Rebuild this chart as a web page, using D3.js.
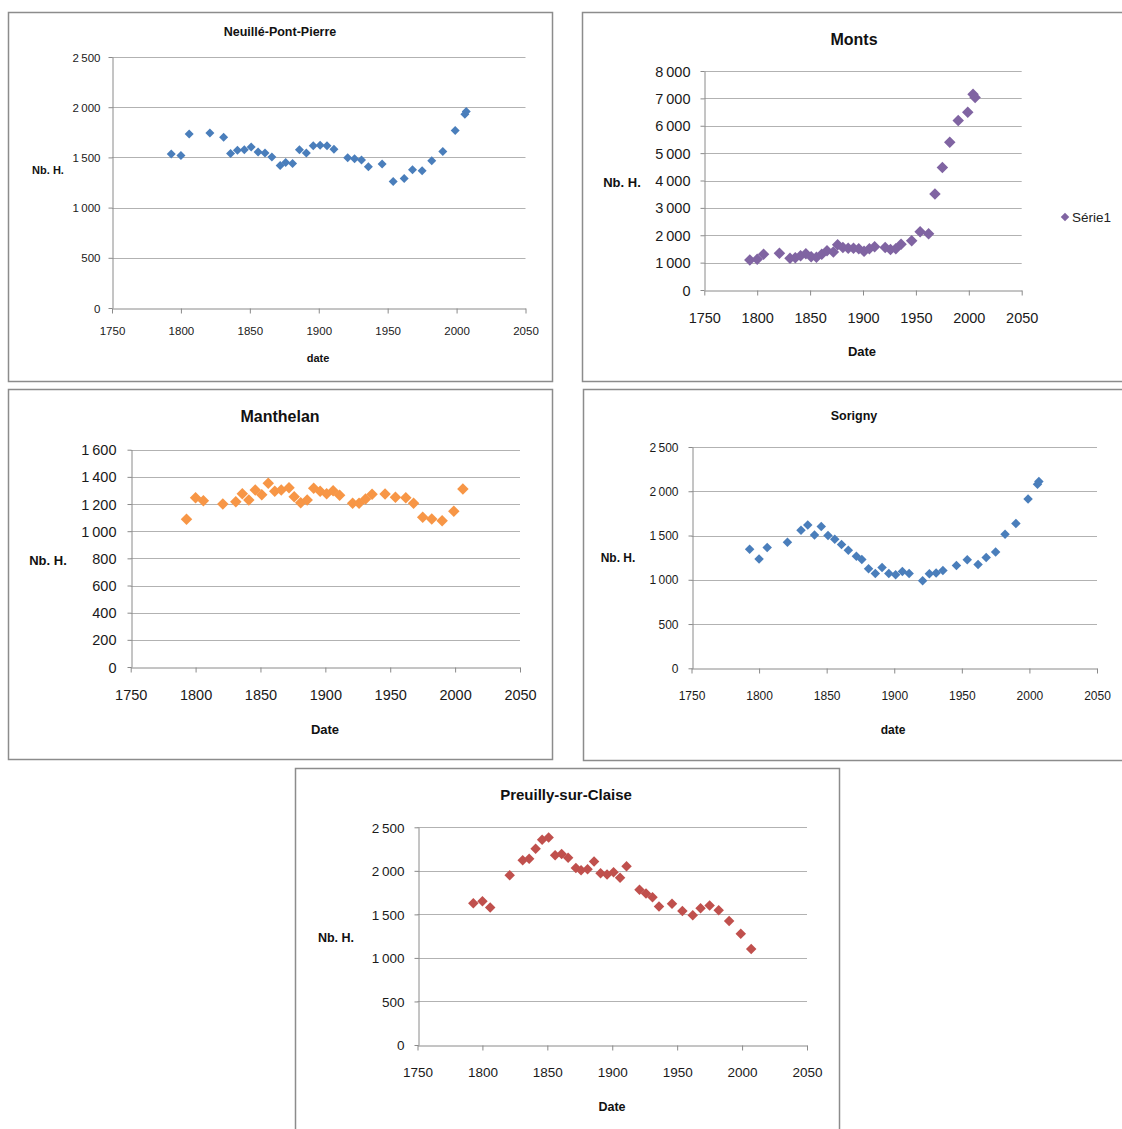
<!DOCTYPE html>
<html>
<head>
<meta charset="utf-8">
<script src="https://cdn.jsdelivr.net/npm/d3@7"></script>
<style>
  body { margin: 0; background: #fff; }
  svg { display: block; font-family: "Liberation Sans", Arial, sans-serif; }
</style>
</head>
<body>
<svg id="chart" width="1122" height="1129"></svg>
<script>
// census years
var years35 = [1793,1800,1806,1821,1831,1836,1841,1846,1851,1856,1861,1866,1872,1876,1881,1886,1891,1896,1901,1906,1911,1921,1926,1931,1936,1946,1954,1962,1968,1975,1982,1990,1999,2006,2007];
var yearsMonts = [1793,1800,1806,1821,1831,1836,1841,1846,1851,1856,1861,1866,1872,1876,1881,1886,1891,1896,1901,1906,1911,1921,1926,1931,1936,1946,1954,1962,1968,1975,1982,1990,1999,2004,2006];
var yearsManthelan = years35.slice(0, 34);
var yearsPreuilly = years35.filter(d => d != 2006);

// Nb. H. per commune
var neuille = [1534,1520,1734,1744,1700,1540,1570,1577,1604,1554,1544,1504,1420,1450,1440,1577,1544,1617,1620,1617,1580,1497,1487,1474,1407,1434,1260,1290,1377,1367,1467,1560,1767,1930,1957];
var monts = [1095,1120,1302,1339,1157,1180,1253,1326,1217,1192,1302,1436,1387,1655,1557,1521,1521,1509,1411,1509,1582,1557,1484,1509,1667,1800,2129,2056,3504,4477,5401,6192,6496,7153,7032];
var manthelan = [1088,1247,1225,1200,1217,1276,1230,1303,1269,1353,1294,1303,1320,1254,1210,1230,1316,1294,1276,1298,1264,1205,1205,1237,1272,1274,1250,1247,1205,1102,1090,1077,1147,1311];
var sorigny = [1346,1236,1365,1425,1560,1620,1507,1602,1500,1459,1399,1334,1267,1230,1124,1072,1139,1072,1056,1094,1072,988,1067,1078,1106,1162,1225,1173,1252,1315,1515,1636,1913,2079,2109];
var preuilly = [1629,1652,1579,1950,2123,2138,2253,2356,2383,2180,2192,2149,2034,2008,2019,2107,1973,1958,1985,1920,2054,1782,1739,1697,1590,1621,1540,1491,1571,1601,1548,1425,1279,1103];

var xTicks = [1750,1800,1850,1900,1950,2000,2050];

var svg = d3.select('#chart');

var fr = d3.formatLocale({decimal: ",", thousands: "\u2009", grouping: [3], currency: ["", " €"]});
var fmt = fr.format(",");

var panels = [
  {title: "Neuillé-Pont-Pierre", frame: [8,12,544,369], x0: 112, x1: 525.5, y0: 308, y1: 57, yMax: 2500, yStep: 500,
   years: years35, values: neuille, color: "#4a7ebb", msize: 9,
   tickFont: 11.5, titleFont: 12.5, labFont: 11, titleXY: [280,32], yLabXY: [48,170], xLabText: "date", xLabXY: [318,358],
   xTickOff: 22, yTickGap: 12},
  {title: "Monts", frame: [582,12,560,369], x0: 704.3, x1: 1021.7, y0: 290, y1: 71, yMax: 8000, yStep: 1000,
   years: yearsMonts, values: monts, color: "#8064a2", msize: 11.5,
   tickFont: 14.5, titleFont: 16, labFont: 13, titleXY: [854,39], yLabXY: [622,182], xLabText: "Date", xLabXY: [862,351],
   xTickOff: 27, yTickGap: 14, legend: true},
  {title: "Manthelan", frame: [8,389,544,370], x0: 130.7, x1: 520, y0: 667, y1: 449.7, yMax: 1600, yStep: 200,
   years: yearsManthelan, values: manthelan, color: "#f79646", msize: 11.5,
   tickFont: 14.5, titleFont: 16, labFont: 13, titleXY: [280,416], yLabXY: [48,560], xLabText: "Date", xLabXY: [325,729],
   xTickOff: 27, yTickGap: 15},
  {title: "Sorigny", frame: [583,389,560,371], x0: 691.5, x1: 1097, y0: 668.3, y1: 447, yMax: 2500, yStep: 500,
   years: years35, values: sorigny, color: "#4a7ebb", msize: 9.5,
   tickFont: 12, titleFont: 12.5, labFont: 12, titleXY: [854,416], yLabXY: [618,558], xLabText: "date", xLabXY: [893,730],
   xTickOff: 27, yTickGap: 14},
  {title: "Preuilly-sur-Claise", frame: [295,768,544,380], x0: 417.5, x1: 807, y0: 1045, y1: 827.3, yMax: 2500, yStep: 500,
   years: yearsPreuilly, values: preuilly, color: "#c0504d", msize: 10.5,
   tickFont: 13.5, titleFont: 15, labFont: 12.5, titleXY: [566,795], yLabXY: [336,938], xLabText: "Date", xLabXY: [612,1107],
   xTickOff: 27, yTickGap: 14}
];

panels.forEach(function(p){
  var g = svg.append("g");

  g.append("rect")
    .attr("x", p.frame[0] + 0.5).attr("y", p.frame[1] + 0.5)
    .attr("width", p.frame[2]).attr("height", p.frame[3])
    .attr("fill", "#fff").attr("stroke", "#8c8c8c").attr("stroke-width", 1.5);

  var x = d3.scaleLinear().domain([1750, 2050]).range([p.x0, p.x1]);
  var y = d3.scaleLinear().domain([0, p.yMax]).range([p.y0, p.y1]);
  var yTicks = d3.range(0, p.yMax + 1, p.yStep);

  // gridlines
  g.append("g")
    .selectAll("line")
    .data(yTicks.filter(d => d > 0))
    .enter()
    .append("line")
    .attr("x1", p.x0).attr("x2", p.x1)
    .attr("y1", d => Math.round(y(d)) + 0.5).attr("y2", d => Math.round(y(d)) + 0.5)
    .attr("stroke", "#b2b2b2").attr("stroke-width", 1);

  // y axis
  var ya = g.append("g")
    .attr("transform", "translate(" + (Math.round(p.x0) + 0.5) + ",0)")
    .call(d3.axisLeft(y).tickValues(yTicks).tickSize(4).tickSizeOuter(0).tickFormat(fmt));
  ya.select(".domain").attr("stroke", "#8a8a8a");
  ya.selectAll(".tick line").attr("stroke", "#8a8a8a");
  ya.selectAll("text")
    .attr("x", -p.yTickGap).attr("dy", "0.35em")
    .attr("font-size", p.tickFont).attr("font-family", "Liberation Sans, Arial, sans-serif")
    .attr("fill", "#1a1a1a");

  // x axis
  var xa = g.append("g")
    .attr("transform", "translate(0," + (Math.round(p.y0) + 0.5) + ")")
    .call(d3.axisBottom(x).tickValues(xTicks).tickSize(5).tickSizeOuter(0).tickFormat(d3.format("d")));
  xa.select(".domain").attr("stroke", "#8a8a8a");
  xa.selectAll(".tick line").attr("stroke", "#8a8a8a");
  xa.selectAll("text")
    .attr("y", p.xTickOff).attr("dy", "0.35em")
    .attr("font-size", p.tickFont).attr("font-family", "Liberation Sans, Arial, sans-serif")
    .attr("fill", "#1a1a1a");

  // points
  var sym = d3.symbol().type(d3.symbolSquare).size(p.msize * p.msize / 2);
  g.append("g")
    .selectAll("path")
    .data(p.values.map((v, i) => ({year: p.years[i], val: v})))
    .enter()
    .append("path")
    .attr("d", sym)
    .attr("transform", d => "translate(" + x(d.year) + "," + y(d.val) + ") rotate(45)")
    .attr("fill", p.color);

  // texts
  g.append("text")
    .attr("x", p.titleXY[0]).attr("y", p.titleXY[1])
    .attr("text-anchor", "middle").attr("dy", "0.35em")
    .attr("font-weight", "bold").attr("font-size", p.titleFont)
    .attr("fill", "#111")
    .text(p.title);

  g.append("text")
    .attr("x", p.yLabXY[0]).attr("y", p.yLabXY[1])
    .attr("text-anchor", "middle").attr("dy", "0.35em")
    .attr("font-weight", "bold").attr("font-size", p.labFont)
    .attr("fill", "#111")
    .text("Nb. H.");

  g.append("text")
    .attr("x", p.xLabXY[0]).attr("y", p.xLabXY[1])
    .attr("text-anchor", "middle").attr("dy", "0.35em")
    .attr("font-weight", "bold").attr("font-size", p.labFont)
    .attr("fill", "#111")
    .text(p.xLabText);

  if (p.legend) {
    g.append("path")
      .attr("d", d3.symbol().type(d3.symbolSquare).size(36))
      .attr("transform", "translate(1065,217) rotate(45)")
      .attr("fill", p.color);
    g.append("text")
      .attr("x", 1072).attr("y", 217).attr("dy", "0.35em")
      .attr("font-size", 13.5).attr("fill", "#222")
      .text("Série1");
  }
});
</script>
</body>
</html>
